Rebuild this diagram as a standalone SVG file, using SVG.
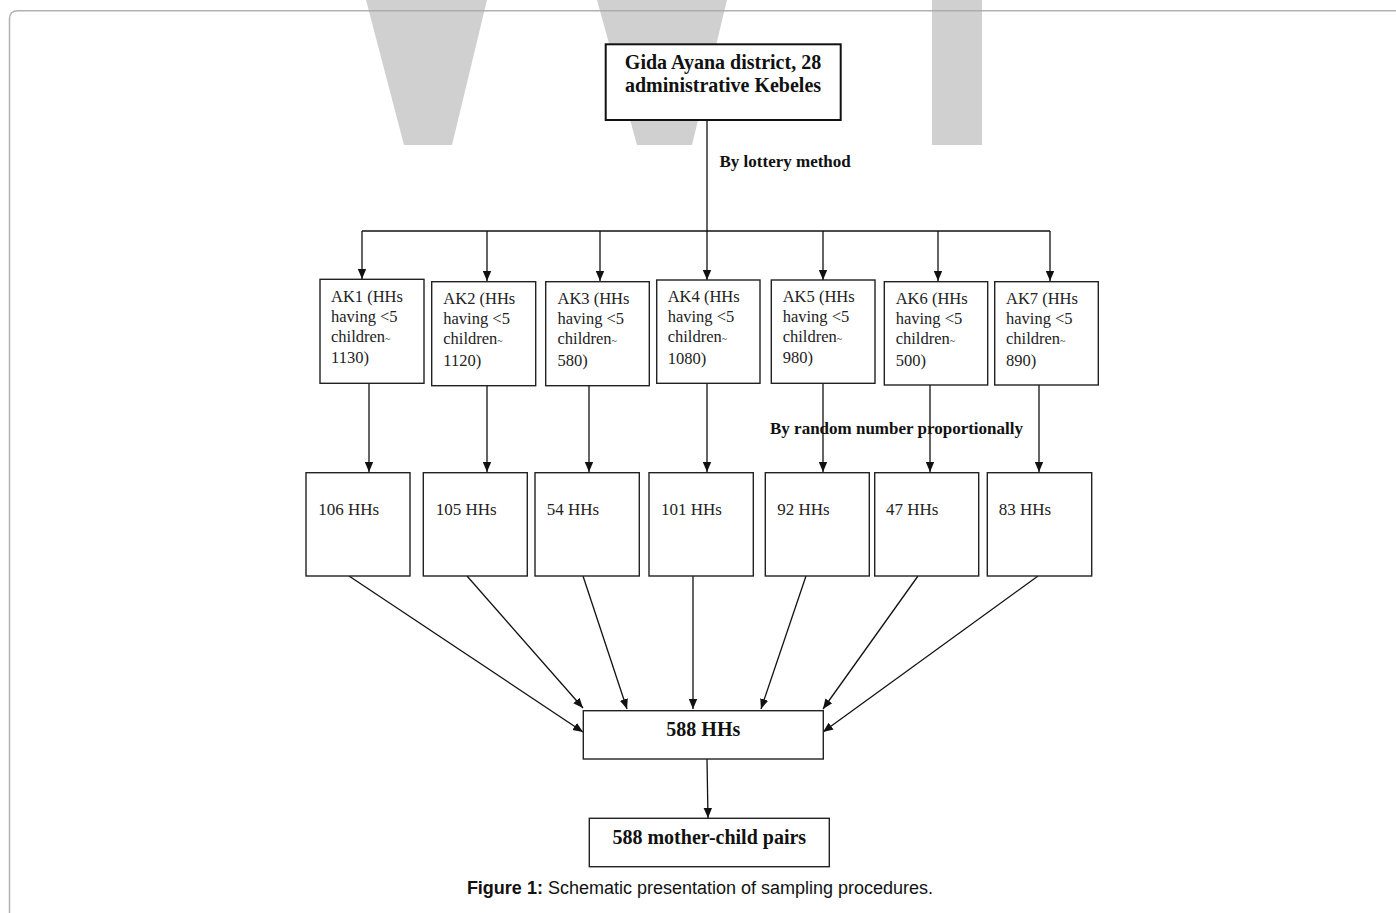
<svg xmlns="http://www.w3.org/2000/svg" width="1396" height="913" viewBox="0 0 1396 913">
<defs>
<marker id="ah" markerUnits="userSpaceOnUse" markerWidth="10" markerHeight="10" viewBox="0 0 10 10" refX="10" refY="5" orient="auto">
<path d="M0,0.8 L10,5 L0,9.2 Z" fill="#111"/>
</marker>
<style>
.box{fill:#fff;stroke:#222;stroke-width:1.4}
.boxb{fill:#fff;stroke:#111;stroke-width:2}
.ln{stroke:#111;stroke-width:1.3;fill:none}
.ar{stroke:#111;stroke-width:1.3;fill:none;marker-end:url(#ah)}
.tb{font-family:"Liberation Serif",serif;font-weight:bold;fill:#111}
.tr{font-family:"Liberation Serif",serif;font-size:16.5px;fill:#222}
.th{font-family:"Liberation Serif",serif;font-size:17px;fill:#222}
.wm{fill:#d0d0d0}
.sm{font-size:10px}
</style>
</defs>
<rect width="1396" height="913" fill="#fff"/>
<g id="watermark">
<polygon class="wm" points="366,0 487,0 452,145 404,145"/>
<polygon class="wm" points="597,0 727,0 692,145 637,145"/>
<rect class="wm" x="932" y="0" width="50" height="145"/>
</g>
<path d="M9.5,925 V19 Q9.5,10.7 18,10.7 H1410" fill="none" stroke="#a8a8a8" stroke-width="1.5" opacity="0.9"/>
<g id="connectors">
<line class="ln" x1="707" y1="120" x2="707" y2="231"/>
<line class="ln" x1="362" y1="231" x2="1050" y2="231"/>
<line class="ar" x1="362" y1="231" x2="362" y2="279"/>
<line class="ar" x1="487" y1="231" x2="487" y2="281"/>
<line class="ar" x1="600" y1="231" x2="600" y2="281"/>
<line class="ar" x1="707" y1="231" x2="707" y2="280"/>
<line class="ar" x1="823" y1="231" x2="823" y2="280"/>
<line class="ar" x1="938" y1="231" x2="938" y2="281"/>
<line class="ar" x1="1050" y1="231" x2="1050" y2="281"/>
<line class="ar" x1="369" y1="383" x2="369" y2="472"/>
<line class="ar" x1="487" y1="386" x2="487" y2="472"/>
<line class="ar" x1="589" y1="386" x2="589" y2="472"/>
<line class="ar" x1="707" y1="383" x2="707" y2="472"/>
<line class="ar" x1="823" y1="383" x2="823" y2="472"/>
<line class="ar" x1="930" y1="385" x2="930" y2="472"/>
<line class="ar" x1="1039" y1="385" x2="1039" y2="472"/>
<line class="ar" x1="349" y1="576" x2="583" y2="732"/>
<line class="ar" x1="467" y1="576" x2="583" y2="708"/>
<line class="ar" x1="583" y1="576" x2="627" y2="709"/>
<line class="ar" x1="693" y1="576" x2="693" y2="709"/>
<line class="ar" x1="806" y1="576" x2="761" y2="709"/>
<line class="ar" x1="918" y1="576" x2="823" y2="709"/>
<line class="ar" x1="1038" y1="576" x2="823" y2="732"/>
<line class="ar" x1="707" y1="759" x2="708" y2="818"/>
</g>
<g id="n-top">
<rect class="boxb" x="605.7" y="44.3" width="235" height="75.7"/>
<text class="tb" font-size="20" text-anchor="middle" x="723" y="68.5">Gida Ayana district, 28</text>
<text class="tb" font-size="20" text-anchor="middle" x="723" y="91.5">administrative Kebeles</text>
</g>
<text class="tb" font-size="17" x="719.5" y="166.5">By lottery method</text>
<g id="n-ak1">
<rect class="box" x="320" y="279.3" width="104" height="104"/>
<text class="tr" x="331" y="301.5">AK1 (HHs</text>
<text class="tr" x="331" y="321.5">having &lt;5</text>
<text class="tr" x="331" y="341.5">children<tspan class="sm">~</tspan></text>
<text class="tr" x="331" y="363.3">1130)</text>
</g>
<g id="n-ak2">
<rect class="box" x="431.7" y="281.7" width="104" height="104"/>
<text class="tr" x="443.3" y="303.5">AK2 (HHs</text>
<text class="tr" x="443.3" y="323.5">having &lt;5</text>
<text class="tr" x="443.3" y="343.5">children<tspan class="sm">~</tspan></text>
<text class="tr" x="443.3" y="366">1120)</text>
</g>
<g id="n-ak3">
<rect class="box" x="545.7" y="281.7" width="103.6" height="104"/>
<text class="tr" x="557.5" y="303.5">AK3 (HHs</text>
<text class="tr" x="557.5" y="323.5">having &lt;5</text>
<text class="tr" x="557.5" y="343.5">children<tspan class="sm">~</tspan></text>
<text class="tr" x="557.5" y="366">580)</text>
</g>
<g id="n-ak4">
<rect class="box" x="656.7" y="280" width="103.3" height="103.3"/>
<text class="tr" x="667.7" y="302">AK4 (HHs</text>
<text class="tr" x="667.7" y="322">having &lt;5</text>
<text class="tr" x="667.7" y="342">children<tspan class="sm">~</tspan></text>
<text class="tr" x="667.7" y="363.5">1080)</text>
</g>
<g id="n-ak5">
<rect class="box" x="771.3" y="280" width="103.7" height="103.3"/>
<text class="tr" x="782.7" y="302">AK5 (HHs</text>
<text class="tr" x="782.7" y="322">having &lt;5</text>
<text class="tr" x="782.7" y="342">children<tspan class="sm">~</tspan></text>
<text class="tr" x="782.7" y="363">980)</text>
</g>
<g id="n-ak6">
<rect class="box" x="884.3" y="281.7" width="103.4" height="103.3"/>
<text class="tr" x="895.7" y="303.5">AK6 (HHs</text>
<text class="tr" x="895.7" y="323.5">having &lt;5</text>
<text class="tr" x="895.7" y="343.5">children<tspan class="sm">~</tspan></text>
<text class="tr" x="895.7" y="366">500)</text>
</g>
<g id="n-ak7">
<rect class="box" x="994.7" y="281.7" width="103.6" height="103.3"/>
<text class="tr" x="1006" y="303.5">AK7 (HHs</text>
<text class="tr" x="1006" y="323.5">having &lt;5</text>
<text class="tr" x="1006" y="343.5">children<tspan class="sm">~</tspan></text>
<text class="tr" x="1006" y="366">890)</text>
</g>
<text class="tb" font-size="17" x="770" y="434">By random number proportionally</text>
<g id="n-hh1"><rect class="box" x="306" y="472.7" width="104" height="103.3"/><text class="th" x="318.3" y="515">106 HHs</text></g>
<g id="n-hh2"><rect class="box" x="423.3" y="472.7" width="104" height="103.3"/><text class="th" x="435.7" y="515">105 HHs</text></g>
<g id="n-hh3"><rect class="box" x="535" y="472.7" width="104.3" height="103.3"/><text class="th" x="546.7" y="515">54 HHs</text></g>
<g id="n-hh4"><rect class="box" x="649" y="472.7" width="104.3" height="103.3"/><text class="th" x="661" y="515">101 HHs</text></g>
<g id="n-hh5"><rect class="box" x="765.3" y="472.7" width="104" height="103.3"/><text class="th" x="777.3" y="515">92 HHs</text></g>
<g id="n-hh6"><rect class="box" x="874.7" y="472.7" width="104" height="103.3"/><text class="th" x="886" y="515">47 HHs</text></g>
<g id="n-hh7"><rect class="box" x="987.3" y="472.7" width="104.4" height="103.3"/><text class="th" x="998.7" y="515">83 HHs</text></g>
<g id="n-total">
<rect class="box" x="583.3" y="710.7" width="240" height="48.3"/>
<text class="tb" font-size="20" text-anchor="middle" x="703.3" y="736">588 HHs</text>
</g>
<g id="n-pairs">
<rect class="box" x="589.3" y="818.3" width="240" height="48.4"/>
<text class="tb" font-size="20" text-anchor="middle" x="709.3" y="843.5">588 mother-child pairs</text>
</g>
<text x="700" y="894" text-anchor="middle" font-family="'Liberation Sans',Arial,sans-serif" font-size="18" fill="#111"><tspan font-weight="bold">Figure 1:</tspan> Schematic presentation of sampling procedures.</text>
</svg>
